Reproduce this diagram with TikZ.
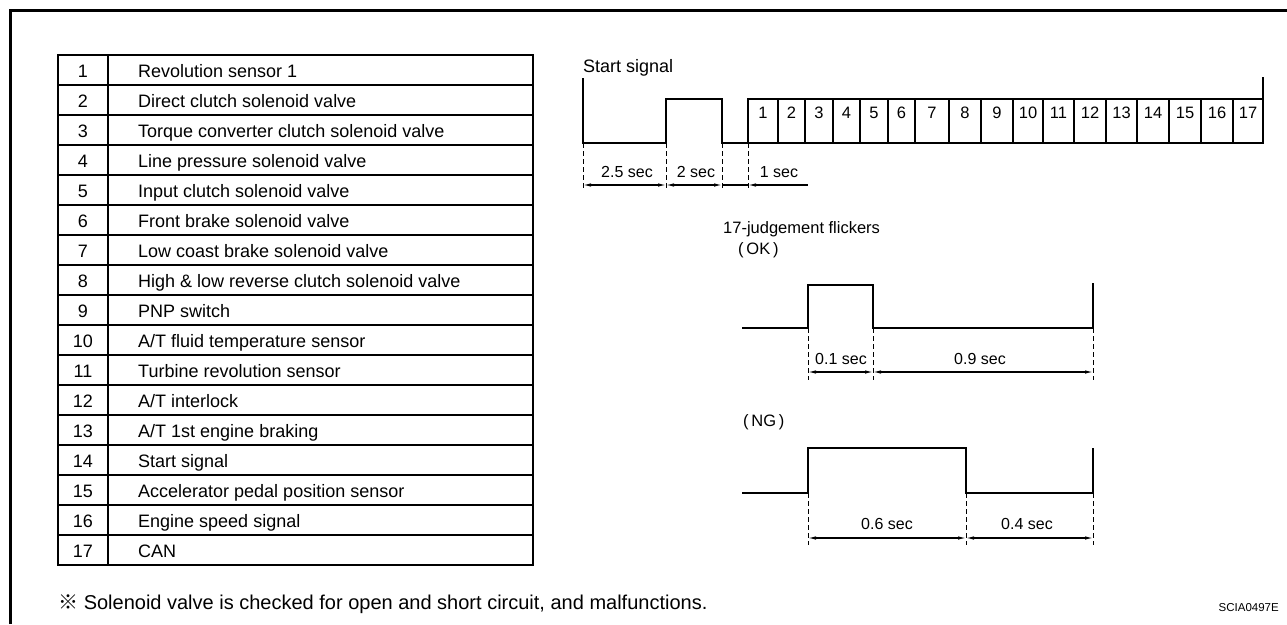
\documentclass[tikz,border=0pt]{standalone}
\usepackage{fontspec}
\setmainfont{Liberation Sans}
\newfontfamily\markfont{Noto Sans CJK JP}
\usetikzlibrary{arrows.meta}

\begin{document}
\begin{tikzpicture}[
  x=1pt, y=-1pt,
  outline/.style={line width=3pt},
  tabline/.style={line width=1.5pt},
  wave/.style={line width=2.4pt, line join=miter},
  guide/.style={line width=1pt, dash pattern=on 5pt off 3pt},
  dimline/.style={
    line width=1.1pt, {Latex[length=8pt,width=3.5pt]}-{Latex[length=8pt,width=3.5pt]}
  },
  dimstart/.style={
    line width=1.1pt, {Latex[length=8pt,width=3.5pt]}-
  },
  cell/.style={font=\fontsize{18}{21}\selectfont, inner sep=0pt},
  pulse/.style={font=\fontsize{16.5}{19}\selectfont, inner sep=0pt, anchor=base},
  caption/.style={font=\fontsize{17}{20}\selectfont, inner sep=0pt, anchor=base west},
  dur/.style={font=\fontsize{16}{19}\selectfont, inner sep=0pt, anchor=base}
]
\useasboundingbox (0,0) rectangle (1287,624);

% Frame
\draw[outline] (10,624) -- (10,10) -- (1287,10);

% Table
\draw[tabline] (58,55) rectangle (533,565);
\draw[tabline] (108,55) -- (108,565);
\foreach \r in {1,...,16}
  \draw[tabline] (58,55+30*\r) -- (533,55+30*\r);

\foreach \i/\txt in {
  1/Revolution sensor 1,
  2/Direct clutch solenoid valve,
  3/Torque converter clutch solenoid valve,
  4/Line pressure solenoid valve,
  5/Input clutch solenoid valve,
  6/Front brake solenoid valve,
  7/Low coast brake solenoid valve,
  8/High \& low reverse clutch solenoid valve,
  9/PNP switch,
  10/{A/T fluid temperature sensor},
  11/Turbine revolution sensor,
  12/{A/T interlock},
  13/{A/T 1st engine braking},
  14/Start signal,
  15/Accelerator pedal position sensor,
  16/Engine speed signal,
  17/CAN}
{
  \node[cell, anchor=base] (num\i) at (83,47+30*\i) {\i};
  \node[cell, anchor=base west] (item\i) at (138,47+30*\i) {\txt};
}

% Start signal
\node[caption, font=\fontsize{18}{21}\selectfont] (startsig) at (583,72) {Start signal};
\draw[wave] (583,78) -- (583,143) -- (666,143) -- (666,99) -- (722,99)
  -- (722,143) -- (748,143) -- (748,99) -- (1263,99);
\draw[wave] (748,143) -- (1263,143) -- (1263,77);

% Judgement boxes
\foreach \i/\a/\b in {1/748/778, 2/778/805, 3/805/833, 4/833/860, 5/860/888,
  6/888/915, 7/915/949, 8/949/981, 9/981/1013, 10/1013/1043, 11/1043/1074,
  12/1074/1106, 13/1106/1137, 14/1137/1169, 15/1169/1201, 16/1201/1233,
  17/1233/1263}
{
  \draw[wave] (\b,99) -- (\b,143);
  \node[pulse] (box\i) at ({(\a+\b)/2},118) {\i};
}

\foreach \x/\n in {583/s0, 666/s1, 722/s2, 748/s3}
{
  \draw[guide] (\x,143) -- (\x,190);
  \coordinate (\n) at (\x,185);
}
\coordinate (s4) at (808,185);
\draw[dimline] (s0) -- (s1);
\draw[dimline] (s1) -- (s2);
\draw[line width=1.1pt] (s2) -- (s3);
\draw[dimstart] (s3) -- (s4);
\node[dur] (t25) at (627,177) {2.5 sec};
\node[dur] (t2) at (696,177) {2 sec};
\node[dur] (t1) at (779,177) {1 sec};

% OK flicker
\node[caption, font=\fontsize{16.5}{19}\selectfont] (judge) at (723,233) {17-judgement flickers};
\node[caption, font=\fontsize{16.5}{19}\selectfont] (ok) at (738,254) {(\,OK\,)};
\draw[wave] (742,328) -- (808,328) -- (808,285) -- (873,285) -- (873,328)
  -- (1093,328) -- (1093,283);
\foreach \x/\n in {808/k0, 873/k1, 1093/k2}
{
  \draw[guide] (\x,328) -- (\x,380);
  \coordinate (\n) at (\x,372);
}
\draw[dimline] (k0) -- (k1);
\draw[dimline] (k1) -- (k2);
\node[dur] (t01) at (841,364) {0.1 sec};
\node[dur] (t09) at (980,364) {0.9 sec};

% NG flicker
\node[caption, font=\fontsize{16.5}{19}\selectfont] (ng) at (743,426) {(\,NG\,)};
\draw[wave] (742,493) -- (808,493) -- (808,448) -- (966,448) -- (966,493)
  -- (1093,493) -- (1093,448);
\foreach \x/\n in {808/g0, 966/g1, 1093/g2}
{
  \draw[guide] (\x,493) -- (\x,545);
  \coordinate (\n) at (\x,538);
}
\draw[dimline] (g0) -- (g1);
\draw[dimline] (g1) -- (g2);
\node[dur] (t06) at (887,529) {0.6 sec};
\node[dur] (t04) at (1027,529) {0.4 sec};

% Note
\node[anchor=base west, inner sep=0pt, font=\fontsize{20}{23}\selectfont] (note)
  at (58,609) {{\markfont ※}\ Solenoid valve is checked for open and short circuit, and malfunctions.};
\node[anchor=base east, inner sep=0pt, font=\fontsize{11.5}{13}\selectfont] (code)
  at (1279,611) {SCIA0497E};

\end{tikzpicture}
\end{document}
